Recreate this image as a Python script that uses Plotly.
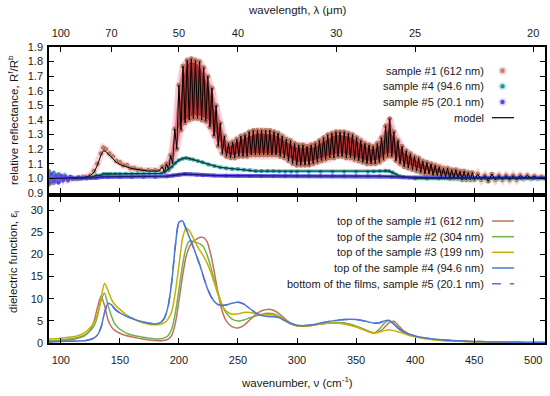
import plotly.graph_objects as go

# ---------------- top panel data: relative reflectance ----------------
# sample #1 (612 nm): low-wavenumber part (no visible fringes)
s1_pre_wn = [90, 92, 94, 96, 98, 100, 102, 104, 106, 108, 110, 113, 116, 119, 122, 125, 128, 131,
             134, 136, 138, 141, 144, 147, 150, 153, 156, 159, 162, 165, 168, 171, 174, 177, 180, 183]
s1_pre_R = [0.96, 1.03, 0.97, 1.02, 0.98, 1.01, 0.99, 1.01, 0.99, 1.0, 1.0, 1.0, 1.0, 1.01, 1.01, 1.02, 1.05, 1.10,
            1.17, 1.21, 1.20, 1.17, 1.15, 1.12, 1.11, 1.09, 1.09, 1.07, 1.07, 1.06, 1.06, 1.05, 1.055, 1.05, 1.055, 1.05]
m1_pre_R = [1.0, 1.0, 1.0, 1.0, 1.0, 1.0, 1.0, 1.0, 1.0, 1.0, 1.0, 1.0, 1.0, 1.005, 1.01, 1.02, 1.04, 1.09,
            1.16, 1.19, 1.185, 1.16, 1.135, 1.11, 1.095, 1.085, 1.075, 1.07, 1.065, 1.06, 1.055, 1.05, 1.05, 1.05, 1.05, 1.05]

# sample #1: interference fringes, maxima
s1_peak_wn = [186.0, 189.5, 193.0, 196.5, 200.0, 203.5, 207.0, 210.5, 214.0, 217.5, 221.0, 224.5, 228.0, 231.5,
              235.0, 238.5, 242.0, 245.5, 249.0, 252.5, 256.0, 259.5, 263.0, 266.5, 270.0, 273.5, 277.0, 280.5,
              284.0, 287.5, 291.0, 294.5, 298.0, 301.5, 305.0, 308.5, 312.0, 315.5, 319.0, 322.5, 326.0, 329.5,
              333.0, 336.5, 340.0, 343.5, 347.0, 350.5, 354.0, 357.5, 361.0, 364.5, 368.0, 371.5, 375.0, 378.5,
              382.0, 385.5, 389.0, 392.5, 396.0, 399.5, 403.0, 406.5, 410.0, 413.5, 417.0, 420.5, 424.0, 427.5,
              431.0, 434.5, 438.0, 441.5, 445.0, 448.5]
s1_peak_R = [1.08, 1.10, 1.16, 1.34, 1.64, 1.77, 1.81, 1.82, 1.81, 1.80, 1.76, 1.70, 1.62, 1.50,
             1.38, 1.29, 1.24, 1.25, 1.27, 1.29, 1.30, 1.32, 1.33, 1.33, 1.33, 1.33, 1.33, 1.32,
             1.31, 1.29, 1.27, 1.26, 1.24, 1.23, 1.23, 1.22, 1.23, 1.24, 1.26, 1.28, 1.30, 1.31,
             1.32, 1.32, 1.32, 1.31, 1.30, 1.28, 1.26, 1.24, 1.23, 1.22, 1.24, 1.28, 1.36, 1.41,
             1.32, 1.26, 1.22, 1.19, 1.17, 1.15, 1.14, 1.12, 1.11, 1.10, 1.09, 1.08, 1.07, 1.07,
             1.06, 1.06, 1.05, 1.05, 1.04, 1.04]
# sample #1: interference fringes, minima
s1_trough_wn = [187.75, 191.25, 194.75, 198.25, 201.75, 205.25, 208.75, 212.25, 215.75, 219.25, 222.75, 226.25,
                229.75, 233.25, 236.75, 240.25, 243.75, 247.25, 250.75, 254.25, 257.75, 261.25, 264.75, 268.25,
                271.75, 275.25, 278.75, 282.25, 285.75, 289.25, 292.75, 296.25, 299.75, 303.25, 306.75, 310.25,
                313.75, 317.25, 320.75, 324.25, 327.75, 331.25, 334.75, 338.25, 341.75, 345.25, 348.75, 352.25,
                355.75, 359.25, 362.75, 366.25, 369.75, 373.25, 376.75, 380.25, 383.75, 387.25, 390.75, 394.25,
                397.75, 401.25, 404.75, 408.25, 411.75, 415.25, 418.75, 422.25, 425.75, 429.25, 432.75, 436.25,
                439.75, 443.25, 446.75, 450.25]
s1_trough_R = [1.04, 1.06, 1.10, 1.20, 1.33, 1.38, 1.40, 1.41, 1.41, 1.40, 1.39, 1.35,
               1.29, 1.22, 1.17, 1.15, 1.14, 1.14, 1.15, 1.15, 1.15, 1.16, 1.16, 1.16,
               1.16, 1.16, 1.16, 1.16, 1.15, 1.14, 1.12, 1.10, 1.09, 1.09, 1.09, 1.09,
               1.10, 1.11, 1.12, 1.13, 1.14, 1.14, 1.15, 1.15, 1.14, 1.14, 1.13, 1.12,
               1.11, 1.10, 1.10, 1.10, 1.11, 1.13, 1.15, 1.15, 1.12, 1.10, 1.08, 1.07,
               1.06, 1.05, 1.04, 1.03, 1.03, 1.02, 1.02, 1.01, 1.01, 1.0, 1.0, 1.0,
               0.99, 0.99, 0.99, 0.99]
# sample #1: high-wavenumber tail
s1_tail_wn = [453, 456, 459, 462, 465, 468, 471, 474, 477, 480, 483, 486, 489, 492, 495, 498, 501, 504, 507, 510]
s1_tail_R = [1.03, 0.99, 1.02, 0.98, 1.03, 0.99, 1.02, 0.99, 1.02, 0.99, 1.02, 0.99, 1.02, 1.0, 1.02, 1.0,
             1.015, 1.0, 1.01, 1.0]

# sample #4 (94.6 nm)
s4_wn = [90, 92, 94, 96, 98, 100, 103, 106, 109, 112, 115, 118, 121, 124, 127, 130, 133, 136, 139, 142,
         146, 150, 155, 160, 165, 170, 175, 180, 185, 188, 191, 194, 197, 200, 203, 206, 209, 212, 216, 220,
         225, 230, 235, 240, 245, 250, 255, 260, 265, 270, 275, 280, 285, 290, 295, 300, 310, 320, 330, 340,
         350, 360, 365, 370, 375, 378, 381, 384, 387, 390, 395, 400, 410, 420, 430, 440, 450, 460, 470, 480,
         490, 500, 510]
s4_R = [1.05, 0.97, 1.04, 0.98, 1.03, 0.99, 1.02, 0.99, 1.01, 1.0, 1.01, 1.0, 1.01, 1.01, 1.01, 1.02, 1.02, 1.03, 1.03, 1.03,
        1.03, 1.03, 1.03, 1.03, 1.03, 1.03, 1.03, 1.03, 1.035, 1.045, 1.06, 1.08, 1.105, 1.125, 1.135, 1.14, 1.135, 1.13, 1.12, 1.11,
        1.095, 1.085, 1.075, 1.07, 1.065, 1.065, 1.06, 1.055, 1.05, 1.05, 1.05, 1.05, 1.048, 1.045, 1.045, 1.045, 1.045, 1.045, 1.045, 1.045,
        1.045, 1.045, 1.048, 1.05, 1.052, 1.05, 1.04, 1.025, 1.015, 1.01, 1.005, 1.0, 1.0, 1.0, 1.0, 1.0, 1.0, 1.0, 1.0, 1.0,
        1.0, 1.0, 1.0]

# sample #5 (20.1 nm)
s5_wn = [90, 92, 94, 96, 98, 100, 102, 104, 106, 108, 110, 114, 118, 122, 126, 130, 135, 140, 150, 160,
         170, 180, 190, 195, 200, 205, 210, 215, 220, 230, 240, 250, 260, 270, 280, 290, 300, 310, 320, 330,
         340, 350, 360, 370, 380, 390, 400, 410, 420, 430, 440, 450, 460, 470, 480, 490, 500, 510]
s5_R = [0.97, 1.03, 0.98, 1.02, 0.97, 1.02, 0.99, 1.01, 0.99, 1.01, 1.0, 1.0, 1.005, 1.0, 1.005, 1.005, 1.01, 1.01, 1.01, 1.01,
        1.01, 1.01, 1.015, 1.02, 1.025, 1.03, 1.028, 1.025, 1.022, 1.02, 1.018, 1.018, 1.016, 1.015, 1.015, 1.015, 1.015, 1.015, 1.015, 1.015,
        1.015, 1.015, 1.015, 1.015, 1.012, 1.008, 1.005, 1.005, 1.005, 1.005, 1.005, 1.005, 1.005, 1.005, 1.005, 1.005, 1.005, 1.005]

# ---------------- bottom panel data: dielectric function ----------------
eps_wn = [90, 100, 110, 115, 120, 125, 128, 131, 134, 137, 140, 143, 146, 150, 155, 160, 165, 170, 175, 180,
          185, 188, 191, 194, 197, 200, 203, 206, 209, 212, 215, 218, 221, 224, 227, 230, 233, 236, 240, 245,
          250, 255, 260, 265, 270, 275, 280, 285, 290, 295, 300, 305, 310, 320, 330, 340, 350, 355, 360, 365,
          370, 374, 378, 382, 386, 390, 395, 400, 410, 420, 430, 440, 450, 460, 470, 480, 490, 500, 510]
eps_s1 = [0.3, 0.5, 0.8, 1.1, 1.6, 3.0, 4.8, 8.0, 10.6, 8.5, 5.2, 3.6, 2.8, 2.2, 1.7, 1.4, 1.1, 0.9, 0.7, 0.55,
          0.5, 0.6, 0.9, 1.8, 4.5, 9.5, 15.0, 19.5, 21.8, 22.9, 23.5, 23.9, 23.8, 22.8, 20.0, 16.0, 11.5, 7.8, 5.0, 3.7,
          3.4, 4.0, 5.2, 6.4, 7.3, 7.6, 7.4, 6.6, 5.4, 4.4, 3.9, 3.8, 3.9, 4.3, 4.6, 4.5, 3.8, 3.3, 2.7, 2.3,
          2.6, 3.5, 4.6, 4.9, 3.9, 2.8, 2.0, 1.5, 1.0, 0.7, 0.5, 0.4, 0.3, 0.25, 0.2, 0.17, 0.14, 0.12, 0.1]
eps_s2 = [0.5, 0.7, 1.0, 1.3, 1.8, 2.8, 3.8, 6.0, 9.5, 11.3, 8.5, 6.0, 4.2, 3.1, 2.3, 1.8, 1.5, 1.3, 1.1, 0.9,
          0.95, 1.2, 1.7, 3.2, 6.8, 12.0, 17.5, 21.5, 23.1, 23.0, 22.7, 22.4, 21.6, 19.8, 17.2, 14.2, 11.4, 9.0, 6.8, 5.4,
          5.0, 5.2, 5.7, 6.1, 6.5, 6.7, 6.6, 6.0, 5.0, 4.3, 3.9, 3.8, 3.9, 4.3, 4.6, 4.5, 3.8, 3.3, 2.7, 2.2,
          3.2, 4.5, 5.1, 4.4, 3.2, 2.5, 1.9, 1.5, 1.0, 0.7, 0.5, 0.4, 0.3, 0.25, 0.2, 0.17, 0.14, 0.12, 0.1]
eps_s3 = [0.9, 1.1, 1.4, 1.7, 2.3, 3.5, 4.6, 6.5, 10.0, 13.5, 11.8, 9.8, 8.6, 7.6, 6.5, 5.7, 5.0, 4.5, 4.2, 4.1,
          4.3, 4.6, 5.5, 7.2, 11.5, 17.5, 23.5, 26.0, 25.3, 23.8, 22.2, 20.8, 19.6, 18.0, 16.0, 13.5, 11.0, 8.9, 7.2, 6.5,
          6.6, 6.9, 6.9, 6.6, 6.3, 6.4, 6.4, 6.0, 5.1, 4.4, 3.9, 3.8, 3.9, 4.3, 4.5, 4.3, 3.6, 3.1, 2.6, 2.3,
          2.5, 2.8, 3.0, 2.8, 2.5, 2.2, 1.7, 1.4, 0.9, 0.6, 0.45, 0.35, 0.28, 0.22, 0.18, 0.15, 0.13, 0.11, 0.1]
eps_s4 = [0.3, 0.35, 0.4, 0.45, 0.5, 0.8, 1.1, 1.8, 3.5, 6.8, 9.0, 8.6, 7.6, 6.8, 6.1, 5.6, 5.1, 4.75, 4.45, 4.3,
          4.7, 5.8, 8.5, 14.0, 22.0, 27.3, 27.6, 25.8, 23.8, 21.8, 19.6, 17.4, 14.8, 12.4, 10.6, 9.4, 8.7, 8.5, 8.6, 9.0,
          9.2, 8.8, 7.8, 6.8, 6.2, 6.0, 6.0, 5.7, 5.0, 4.4, 4.0, 3.9, 4.0, 4.5, 5.0, 5.3, 5.3, 5.1, 4.8, 4.5,
          4.6, 5.0, 5.1, 4.3, 3.3, 2.6, 2.0, 1.6, 1.1, 0.8, 0.6, 0.45, 0.35, 0.28, 0.22, 0.18, 0.15, 0.13, 0.11]
eps_s5 = eps_s4  # bottom of the films: coincides with the top of sample #4 (hidden beneath it)

# axis ticks
wn_ticks = [100, 150, 200, 250, 300, 350, 400, 450, 500]
wl_ticks_um = [100, 70, 50, 40, 30, 25, 20]
R_ticks = [0.9, 1.0, 1.1, 1.2, 1.3, 1.4, 1.5, 1.6, 1.7, 1.8, 1.9]
eps_ticks = [0, 5, 10, 15, 20, 25, 30]

# ---------------- figure ----------------
FONT = "Liberation Sans, Arial, sans-serif"
W, H = 550, 396
PX0, PX1 = 49, 545            # plot area in page pixels
PY0, PY1 = 47, 343
L, R, T, B = PX0, W - PX1, PY0, H - PY1
PW, PH = PX1 - PX0, PY1 - PY0


def px_x(p):
    return (p - PX0) / PW


def px_y(p):
    return (PY1 - p) / PH


top_dom = [px_y(193), 1.0]
bot_dom = [0.0, px_y(197)]

fig = go.Figure()

# merged sample #1 series
fr = sorted(list(zip(s1_peak_wn, s1_peak_R)) + list(zip(s1_trough_wn, s1_trough_R)))
s1_wn = s1_pre_wn + [p[0] for p in fr] + s1_tail_wn
s1_R = s1_pre_R + [p[1] for p in fr] + s1_tail_R
m1_R = m1_pre_R + [p[1] for p in fr] + s1_tail_R

HALO1 = "rgba(255,175,195,0.55)"
# pink halo around sample #1 points
fig.add_trace(go.Scatter(x=s1_wn, y=s1_R, mode="lines", line=dict(color=HALO1, width=7),
                         showlegend=False, hoverinfo="skip", xaxis="x", yaxis="y"))
# fringe band shading (envelope of sample #1)
fig.add_trace(go.Scatter(x=s1_peak_wn, y=s1_peak_R, mode="lines", line=dict(color=HALO1, width=6),
                         showlegend=False, hoverinfo="skip", xaxis="x", yaxis="y"))
fig.add_trace(go.Scatter(x=s1_trough_wn, y=s1_trough_R, mode="lines", line=dict(color=HALO1, width=6),
                         fill="tonexty", fillcolor="rgba(170,35,35,0.9)",
                         showlegend=False, hoverinfo="skip", xaxis="x", yaxis="y"))
# data points
fig.add_trace(go.Scatter(x=s1_wn, y=s1_R, mode="markers",
                         marker=dict(symbol="circle", size=4, color="#c08262",
                                     line=dict(color="#9a6044", width=0.6)),
                         showlegend=False, xaxis="x", yaxis="y"))
fig.add_trace(go.Scatter(x=s4_wn, y=s4_R, mode="lines+markers",
                         line=dict(color="rgba(120,220,225,0.8)", width=4),
                         marker=dict(symbol="circle", size=4, color="#3c9a9c"),
                         showlegend=False, xaxis="x", yaxis="y"))
fig.add_trace(go.Scatter(x=s5_wn, y=s5_R, mode="lines+markers",
                         line=dict(color="#6a5cf0", width=4),
                         marker=dict(symbol="circle", size=4, color="#5a48e6"),
                         showlegend=False, xaxis="x", yaxis="y"))
# model curves
fig.add_trace(go.Scatter(x=s1_wn, y=m1_R, mode="lines", line=dict(color="black", width=1),
                         showlegend=False, xaxis="x", yaxis="y"))
fig.add_trace(go.Scatter(x=s4_wn[9:], y=s4_R[9:], mode="lines", line=dict(color="#103838", width=1.3),
                         showlegend=False, xaxis="x", yaxis="y"))
fig.add_trace(go.Scatter(x=s5_wn[10:], y=s5_R[10:], mode="lines", line=dict(color="#1c1c70", width=1.3),
                         showlegend=False, xaxis="x", yaxis="y"))

# bottom panel
eps_series = [
    ("bottom of the films, sample #5 (20.1 nm)", eps_s5, "#6464e6", "dash"),
    ("top of the sample #1 (612 nm)", eps_s1, "#c0725a", "solid"),
    ("top of the sample #2 (304 nm)", eps_s2, "#72b052", "solid"),
    ("top of the sample #3 (199 nm)", eps_s3, "#c8b000", "solid"),
    ("top of the sample #4 (94.6 nm)", eps_s4, "#4a78d4", "solid"),
]
for name, ys, col, dash in eps_series:
    fig.add_trace(go.Scatter(x=eps_wn, y=ys, mode="lines", name=name,
                             line=dict(color=col, width=1.5, dash=dash, shape="spline", smoothing=0.6),
                             showlegend=False, xaxis="x2", yaxis="y2"))

axis_common = dict(showline=True, linecolor="black", linewidth=1.6, ticks="inside", ticklen=5,
                   tickwidth=1, tickcolor="black", showgrid=False, zeroline=False,
                   tickfont=dict(family=FONT, size=11, color="#1a1a1a"))

fig.update_layout(
    width=W, height=H, margin=dict(l=L, r=R, t=T, b=B, autoexpand=False),
    paper_bgcolor="white", plot_bgcolor="white",
    font=dict(family=FONT, size=11, color="#1a1a1a"),
    showlegend=False,
    xaxis=dict(domain=[0, 1], anchor="y", range=[90, 510], tickvals=wn_ticks, showticklabels=False,
               mirror=False, **axis_common),
    yaxis=dict(domain=top_dom, anchor="x", range=[0.9, 1.9], tickvals=R_ticks, tickformat=".1f",
               mirror="ticks", ticklabelstandoff=2, **axis_common),
    xaxis3=dict(overlaying="x", anchor="y", side="top", range=[90, 510],
                tickvals=[10000.0 / v for v in wl_ticks_um], ticktext=[str(v) for v in wl_ticks_um],
                ticklabelstandoff=4, **axis_common),
    xaxis2=dict(domain=[0, 1], anchor="y2", range=[90, 510], tickvals=wn_ticks, mirror="ticks",
                ticklabelstandoff=6, **axis_common),
    yaxis2=dict(domain=bot_dom, anchor="x2", range=[0, 33], tickvals=eps_ticks, mirror="ticks",
                ticklabelstandoff=2, **axis_common),
)
# dummy trace so xaxis3 is drawn
fig.add_trace(go.Scatter(x=[90, 510], y=[None, None], xaxis="x3", yaxis="y", showlegend=False))

ann = []
TF = dict(family=FONT, size=11.5, color="#1a1a1a")
ann.append(dict(text="relative reflectance, R<sup>f</sup>/R<sup>b</sup>", x=px_x(13), y=px_y(120), textangle=-90,
                xref="paper", yref="paper", showarrow=False, font=TF, xanchor="center", yanchor="middle"))
ann.append(dict(text="dielectric function, ε<sub>i</sub>", x=px_x(14), y=px_y(262), textangle=-90,
                xref="paper", yref="paper", showarrow=False, font=TF, xanchor="center", yanchor="middle"))
ann.append(dict(text="wavenumber, ν (cm<sup>-1</sup>)", x=px_x(297), y=px_y(382),
                xref="paper", yref="paper", showarrow=False, font=TF, xanchor="center", yanchor="middle"))
ann.append(dict(text="wavelength, λ (μm)", x=px_x(297), y=px_y(10),
                xref="paper", yref="paper", showarrow=False, font=TF, xanchor="center", yanchor="middle"))

shapes = []
LF = dict(family=FONT, size=11, color="#1a1a1a")
# top legend
top_leg = [("sample #1 (612 nm)", "#c08262", "rgba(255,170,190,0.6)"),
           ("sample #4 (94.6 nm)", "#3c8a9c", "rgba(170,240,245,0.8)"),
           ("sample #5 (20.1 nm)", "#5a48e6", "rgba(200,195,255,0.6)")]
rows_top = [70.7, 86.3, 102.0, 117.7]
for (txt, col, halo), yy in zip(top_leg, rows_top):
    ann.append(dict(text=txt, x=px_x(486), y=px_y(yy), xref="paper", yref="paper", showarrow=False,
                    font=LF, xanchor="right", yanchor="middle"))
    for r, c in ((4, halo), (2.2, col)):
        shapes.append(dict(type="circle", xref="paper", yref="paper", x0=px_x(502.5 - r), x1=px_x(502.5 + r),
                           y0=px_y(yy + r), y1=px_y(yy - r), fillcolor=c, line=dict(width=0)))
ann.append(dict(text="model", x=px_x(486), y=px_y(rows_top[3]), xref="paper", yref="paper", showarrow=False,
                font=LF, xanchor="right", yanchor="middle"))
shapes.append(dict(type="line", xref="paper", yref="paper", x0=px_x(492), x1=px_x(514),
                   y0=px_y(rows_top[3]), y1=px_y(rows_top[3]), line=dict(color="black", width=1.2)))
# bottom legend
rows_bot = [221.0, 236.7, 252.3, 268.0, 283.7]
bot_order = eps_series[1:] + eps_series[:1]
for (name, ys, col, dash), yy in zip(bot_order, rows_bot):
    ann.append(dict(text=name, x=px_x(486), y=px_y(yy), xref="paper", yref="paper", showarrow=False,
                    font=LF, xanchor="right", yanchor="middle"))
    shapes.append(dict(type="line", xref="paper", yref="paper", x0=px_x(492), x1=px_x(514),
                       y0=px_y(yy), y1=px_y(yy), line=dict(color=col, width=1.5, dash=dash)))

fig.update_layout(annotations=ann, shapes=shapes)
# remove the browser's default 8px page margin so the 550x396 figure fills the window exactly
fig.write_html("out.html", config={"displayModeBar": False},
               post_script="document.body.style.margin='0';document.body.style.overflow='hidden';")
